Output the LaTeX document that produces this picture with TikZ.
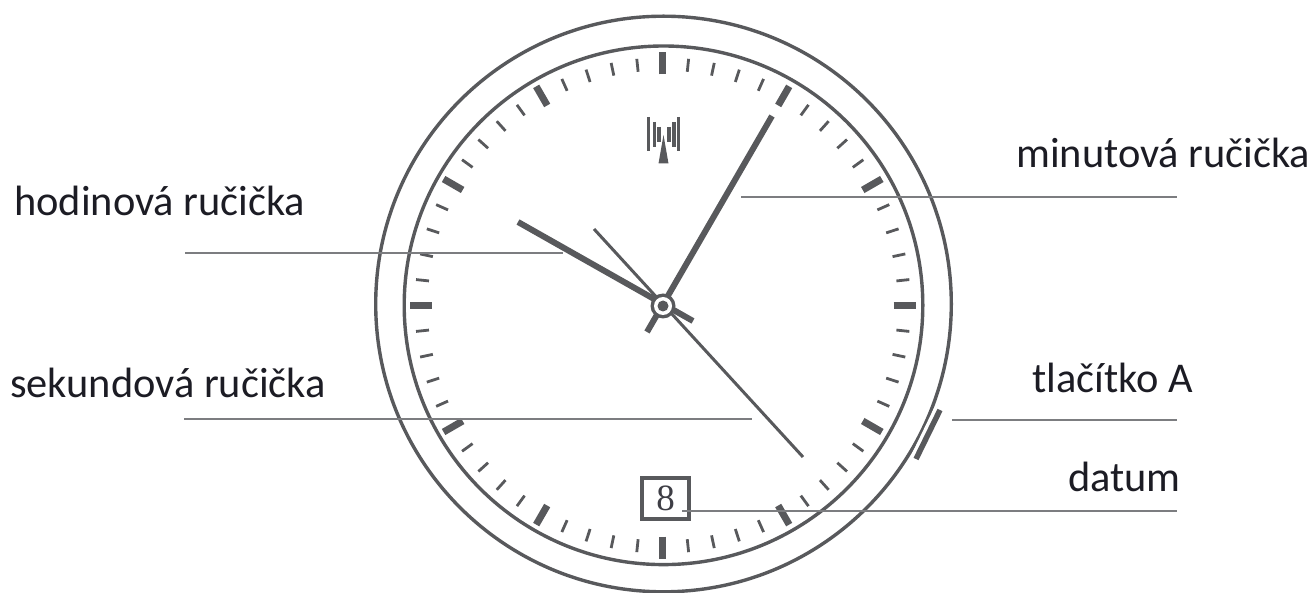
\documentclass[tikz,border=0pt]{standalone}
\usepackage{fontspec}
\usetikzlibrary{calc}
\setmainfont{Carlito}
\newfontfamily\digitfont{Liberation Serif}
\definecolor{ink}{HTML}{58595C}
\definecolor{leader}{HTML}{7C7D80}
\definecolor{labelink}{HTML}{1C1C24}
\tikzset{
  x=1pt,y=-1pt,
  rim/.style={draw=ink,line width=3.4pt},
  leaderline/.style={draw=leader,line width=2.4pt},
  minortick/.style={draw=ink,line width=2.8pt},
  majortick/.style={draw=ink,line width=7pt},
  hourhand/.style={draw=ink,line width=6pt},
  minutehand/.style={draw=ink,line width=6pt},
  secondhand/.style={draw=ink,line width=3pt},
  lab/.style={font=\fontsize{42.4}{42.4}\selectfont,text=labelink,inner sep=0pt,anchor=base west},
  logobar/.style={draw=ink,line width=3.4pt},
}
\begin{document}
\begin{tikzpicture}
\useasboundingbox (0,0) rectangle (1310,593);
\coordinate (c) at (663,306);
\coordinate (tc) at (662.7,305.5);
% rims
\draw[rim] (663.5,304) circle[radius=287.8];
\draw[rim] (663.5,305.3) circle[radius=259.3];
% ticks
\foreach \i in {0,...,59}{
  \pgfmathtruncatemacro{\m}{mod(\i,5)}
  \ifnum\m=0
    \draw[majortick] ($(tc)+(\i*6:231)$) -- ($(tc)+(\i*6:253)$);
  \else
    \draw[minortick] ($(tc)+(\i*6:235)$) -- ($(tc)+(\i*6:248)$);
  \fi
}
% logo
\foreach \xx/\a/\b in {648.5/117/151,654.5/122/147,659/127/142,669/127/142,674/122/147,678.5/117/151}
  \draw[logobar] (\xx,\a) -- (\xx,\b);
\fill[ink] (663.5,135) -- (668.5,163.5) -- (658.5,163.5) -- cycle;
% hands
\coordinate (hourtip) at (518,222);
\coordinate (hourtail) at (693,321);
\coordinate (mintip) at (772,116);
\coordinate (mintail) at (647,332);
\coordinate (sectip) at (803,457);
\coordinate (sectail) at (594,229);
\draw[hourhand] (hourtip) -- (hourtail);
\draw[minutehand] (mintip) -- (mintail);
\draw[secondhand] (sectail) -- (sectip);
\fill[ink] (c) circle[radius=12.5];
\fill[white] (c) circle[radius=9];
\fill[ink] (c) circle[radius=5.5];
% crown button
\coordinate (btnA) at (940,410);
\coordinate (btnB) at (916,459);
\draw[ink,line width=5.5pt] (btnA) -- (btnB);
\path[draw=white,line width=1.3pt] (935,407.5) -- (912,455);
% date window
\node[draw=ink,line width=3.4pt,minimum width=47pt,minimum height=41pt,inner sep=0pt,
  font=\digitfont\fontsize{37}{37}\selectfont,text=labelink!85] (date) at (665.5,498.5) {8};
% labels
\node[lab] (lh) at (14,216) {hodinová ručička};
\node[lab] (ls) at (10,398) {sekundová ručička};
\node[lab] (lm) at (1016,168) {minutová ručička};
\node[lab] (lt) at (1032,393) {tlačítko A};
\node[lab] (ld) at (1068,492) {datum};
% leaders
\coordinate (h1) at (185,253); \coordinate (h2) at (563,253);
\coordinate (m1) at (741,197); \coordinate (m2) at (1177,197);
\coordinate (s1) at (184,419); \coordinate (s2) at (752,419);
\coordinate (t1) at (952,420); \coordinate (t2) at (1177,420);
\coordinate (d1) at (682,511); \coordinate (d2) at (1177,511);
\draw[leaderline] (h1) -- (h2);
\draw[leaderline] (m1) -- (m2);
\draw[leaderline] (s1) -- (s2);
\draw[leaderline] (t1) -- (t2);
\draw[leaderline] (d1) -- (d2);
\end{tikzpicture}
\end{document}
